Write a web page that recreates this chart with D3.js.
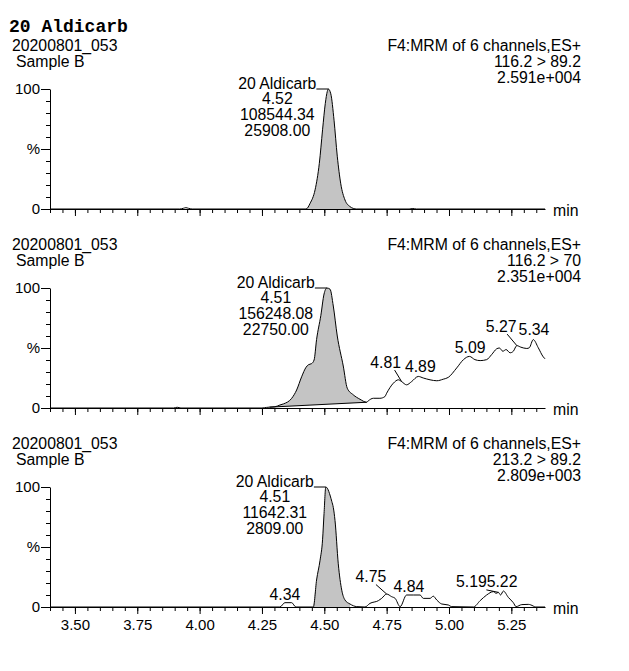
<!DOCTYPE html>
<html>
<head>
<meta charset="utf-8">
<script src="https://cdn.jsdelivr.net/npm/d3@7"></script>
<style>
  html, body { margin: 0; padding: 0; background: #fff; }
  svg { display: block; }
</style>
</head>
<body>
<div id="chart"></div>
<script>
// ---------------- DATA ----------------
const chartTitle = "20 Aldicarb";
const sampleIds = ["20200801_053", "20200801_053", "20200801_053"];
const sampleNames = ["Sample B", "Sample B", "Sample B"];
const functionNames = ["F4:MRM of 6 channels,ES+", "F4:MRM of 6 channels,ES+", "F4:MRM of 6 channels,ES+"];
const transitions = ["116.2 > 89.2", "116.2 > 70", "213.2 > 89.2"];
const fullScale = ["2.591e+004", "2.351e+004", "2.809e+003"];

const compoundName = "20 Aldicarb";
const peakRT = ["4.52", "4.51", "4.51"];
const peakArea = ["108544.34", "156248.08", "11642.31"];
const peakHeight = ["25908.00", "22750.00", "2809.00"];
const peakApexTime = [4.516, 4.51, 4.506];

// chromatogram traces (time in min, intensity in %)
const time1 = [3.40, 3.92, 3.935, 3.945, 3.955, 3.97, 4.427, 4.443, 4.463, 4.480, 4.493, 4.504, 4.512, 4.516, 4.526, 4.539, 4.552, 4.566, 4.583, 4.603, 4.616, 4.63, 4.84, 4.855, 4.87, 5.385];
const pct1  = [0, 0, 0.6, 1.1, 0.6, 0, 0, 4.7, 16, 38, 66, 88, 98, 100, 96, 74, 44, 21, 7.5, 2, 0.5, 0, 0, 0.4, 0, 0];

const time2 = [3.40, 3.895, 3.91, 3.925, 4.25, 4.269, 4.28, 4.302, 4.322, 4.336, 4.369, 4.389, 4.409, 4.427, 4.436, 4.449, 4.459, 4.469, 4.486, 4.499, 4.51, 4.523, 4.536, 4.552, 4.576, 4.592, 4.616, 4.643, 4.67, 4.676, 4.697, 4.723, 4.743, 4.75, 4.777, 4.797, 4.81, 4.83, 4.85, 4.877, 4.897, 4.924, 4.951, 4.977, 4.997, 5.031, 5.058, 5.082, 5.104, 5.125, 5.151, 5.171, 5.191, 5.202, 5.216, 5.229, 5.245, 5.258, 5.272, 5.288, 5.312, 5.322, 5.338, 5.358, 5.378, 5.385];
const pct2  = [0, 0, 0.6, 0, 0, 0.5, 0.7, 1, 2.5, 3.4, 8, 15, 26, 34, 36, 37, 40, 57, 77, 95, 100, 99, 85, 60, 35, 16.5, 11, 7.3, 4.8, 5.9, 8.1, 8.1, 9.5, 12.3, 20.7, 23.5, 22, 19.3, 22, 26.3, 25, 23.5, 22.7, 24, 25.5, 33.4, 40.3, 43, 40.3, 39.5, 40.3, 44.5, 49.3, 50, 47.3, 48.7, 46, 47.3, 52, 50.7, 49.6, 50.2, 57, 50.2, 42.6, 41];

const time3 = [3.40, 4.322, 4.342, 4.369, 4.386, 4.456, 4.469, 4.483, 4.493, 4.499, 4.506, 4.53, 4.536, 4.543, 4.556, 4.57, 4.583, 4.603, 4.63, 4.663, 4.683, 4.717, 4.73, 4.75, 4.77, 4.784, 4.804, 4.83, 4.857, 4.884, 4.897, 4.924, 4.937, 4.951, 4.971, 4.997, 5.011, 5.098, 5.125, 5.151, 5.178, 5.189, 5.198, 5.207, 5.218, 5.238, 5.258, 5.269, 5.292, 5.318, 5.338, 5.345, 5.385];
const pct3  = [0, 0, 3.6, 3.6, 0, 0, 22.5, 39, 56, 78, 100, 88, 83, 72, 36, 14, 5.8, 2.5, 0.3, 0, 3, 5.3, 7.2, 10.8, 8.6, 7.2, 0.3, 10, 10, 10, 7.2, 7.2, 9, 5.8, 2.5, 1.7, 0.3, 0, 5.3, 10, 12.8, 11.4, 12.2, 10, 13.3, 8, 3.6, 0.3, 2, 2.2, 0.8, 0, 0];

// integration (shaded peak) start/end and baseline levels
const integStart = [4.427, 4.28, 4.456];
const integEnd = [4.616, 4.67, 4.603];
const integBaseStartPct = [0, 0.7, 0];
const integBaseEndPct = [0, 4.8, 0];

// small labelled peaks
const minorLabels = [[], ["4.81", "4.89", "5.09", "5.27", "5.34"], ["4.34", "4.75", "4.84", "5.19", "5.22"]];
const minorTimes  = [[], [4.81, 4.877, 5.082, 5.272, 5.338], [4.342, 4.75, 4.83, 5.198, 5.218]];

// axis ticks
const xMajorTicks = [3.50, 3.75, 4.00, 4.25, 4.50, 4.75, 5.00, 5.25];
const xTickLabels = ["3.50", "3.75", "4.00", "4.25", "4.50", "4.75", "5.00", "5.25"];
const yMinorTicks = [0, 10, 20, 30, 40, 50, 60, 70, 80, 90, 100];
const yMajorTicks = [0, 50, 100];
const yTickLabels = ["0", "%", "100"];

// ---------------- LAYOUT ----------------
const W = 629, H = 671;
const sans = "'Liberation Sans', Arial, sans-serif";
const FS = 15.8;
const panelTop0 = 89, panelStep = 199, panelH = 120;
// label offsets [dx, dy] relative to apex, and leader start dx (null = no leader)
const minorLayout = [[], 
  [[-16, -14, 9], [2, -4.7, null], [0.7, -3.7, null], [-15.7, -14, 6], [0.7, -5, null]],
  [[0, -3, null], [-15.7, -12, 5], [2.3, -3, null], [-27, -5, 15], [-1.3, -4, null]]];

const traces = [[time1, pct1], [time2, pct2], [time3, pct3]];

const svg = d3.select("#chart").append("svg")
  .attr("width", W).attr("height", H)
  .style("font-family", sans);

svg.append("text").attr("x", 9).attr("y", 32)
  .style("font-family", "'Liberation Mono', 'Courier New', monospace")
  .style("font-weight", "bold").style("font-size", "18px")
  .text(chartTitle);

const x = d3.scaleLinear().domain([3.40, 5.385]).range([50, 545]);
const xMinorTicks = d3.range(68, 108).map(k => k / 20).filter(v => v <= 5.385);

function valueAt(ts, vs, t) {
  let best = 0;
  for (let i = 1; i < ts.length; i++) if (Math.abs(ts[i] - t) < Math.abs(ts[best] - t)) best = i;
  return vs[best];
}

for (let p = 0; p < 3; p++) {
  const top = panelTop0 + panelStep * p;
  const bottom = top + panelH;
  const y = d3.scaleLinear().domain([0, 100]).range([bottom, top]);
  const g = svg.append("g");
  const [ts, vs] = traces[p];
  const pts = ts.map((t, i) => ({ t, v: vs[i] }));

  // headers
  const hy = top - 38;
  g.append("text").attr("x", 12).attr("y", hy).style("font-size", FS + "px").text(sampleIds[p]);
  g.append("text").attr("x", 16).attr("y", hy + 16).style("font-size", FS + "px").text(sampleNames[p]);
  const rt = [functionNames[p], transitions[p], fullScale[p]];
  rt.forEach((s, k) => g.append("text").attr("x", 581).attr("y", hy + 16 * k)
    .attr("text-anchor", "end").style("font-size", FS + "px").text(s));

  // shaded integrated peak
  const s0 = integStart[p], s1 = integEnd[p];
  const b0 = integBaseStartPct[p], b1 = integBaseEndPct[p];
  const base = t => b0 + (b1 - b0) * (t - s0) / (s1 - s0);
  const inPk = pts.filter(d => d.t >= s0 - 1e-9 && d.t <= s1 + 1e-9);
  const area = d3.area().x(d => x(d.t)).y0(d => y(base(d.t))).y1(d => y(d.v)).curve(d3.curveMonotoneX);
  g.append("path").datum(inPk).attr("d", area).attr("fill", "#c4c4c4").attr("stroke", "none");
  if (b0 !== 0 || b1 !== 0) {
    g.append("line").attr("x1", x(s0)).attr("y1", y(b0)).attr("x2", x(s1)).attr("y2", y(b1))
      .attr("stroke", "#000").attr("stroke-width", 1);
  }

  // axes
  const yMinor = g.append("g").attr("transform", "translate(50,0)")
    .call(d3.axisLeft(y).tickValues(yMinorTicks).tickSize(4).tickSizeOuter(0).tickFormat(""));
  const yMajor = g.append("g").attr("transform", "translate(50,0)")
    .call(d3.axisLeft(y).tickValues(yMajorTicks).tickSize(9).tickSizeOuter(0).tickPadding(1)
      .tickFormat((d, i) => yTickLabels[i]));
  yMajor.select(".domain").remove();
  yMajor.selectAll("text").style("font-size", "15px").style("font-family", sans);

  const xMinor = g.append("g").attr("transform", `translate(0,${bottom})`)
    .call(d3.axisBottom(x).tickValues(xMinorTicks).tickSize(4).tickSizeOuter(0).tickFormat(""));
  const xMajor = g.append("g").attr("transform", `translate(0,${bottom})`)
    .call(d3.axisBottom(x).tickValues(xMajorTicks).tickSize(7).tickSizeOuter(0).tickPadding(5)
      .tickFormat((d, i) => p === 2 ? xTickLabels[i] : ""));
  xMajor.select(".domain").remove();
  xMajor.selectAll("text").style("font-size", "15px").style("font-family", sans);
  g.selectAll(".domain, .tick line").attr("stroke", "#000");

  g.append("text").attr("x", 553).attr("y", bottom + 6.5).style("font-size", FS + "px").text("min");

  // trace
  const line = d3.line().x(d => x(d.t)).y(d => y(d.v)).curve(d3.curveMonotoneX);
  g.append("path").datum(pts).attr("d", line).attr("fill", "none")
    .attr("stroke", "#000").attr("stroke-width", 1);

  // main peak label
  const ax = x(peakApexTime[p]), ay = y(100);
  const cx = ax - 51;
  const lines = [compoundName, peakRT[p], peakArea[p], peakHeight[p]];
  const texts = lines.map((s, k) => g.append("text").attr("x", cx).attr("y", ay - 0.5 + 15.8 * k)
    .attr("text-anchor", "middle").style("font-size", FS + "px").text(s));
  const w0 = texts[0].node().getComputedTextLength();
  g.append("line").attr("x1", cx + w0 / 2).attr("y1", ay).attr("x2", ax).attr("y2", ay)
    .attr("stroke", "#000").attr("stroke-width", 1);

  // minor peak labels
  minorLabels[p].forEach((lab, k) => {
    const t = minorTimes[p][k];
    const v = valueAt(ts, vs, t);
    const px = x(t), py = y(v);
    const [dx, dy, lead] = minorLayout[p][k];
    g.append("text").attr("x", px + dx).attr("y", py + dy).attr("text-anchor", "middle")
      .style("font-size", FS + "px").text(lab);
    if (lead !== null) {
      g.append("line").attr("x1", px + dx + lead).attr("y1", py + dy + 2.5)
        .attr("x2", px).attr("y2", py).attr("stroke", "#000").attr("stroke-width", 1);
    }
  });
}
</script>
</body>
</html>
